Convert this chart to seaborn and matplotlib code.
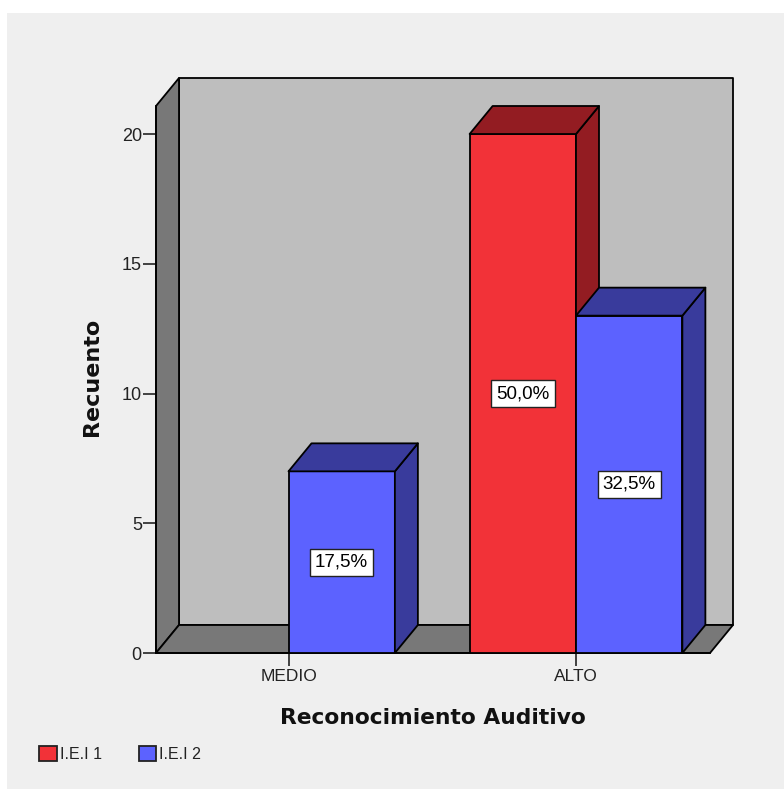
# Loading packages
import numpy as np
import pandas as pd
import seaborn as sn
import matplotlib.pyplot as plt
from matplotlib.patches import Patch, Polygon, Rectangle

# Values
categories = ['MEDIO', 'ALTO']
iei1_values = [np.nan, 20]
iei2_values = [7, 13]
iei1_pct = [None, '50,0%']
iei2_pct = ['17,5%', '32,5%']
series_names = ['I.E.I 1', 'I.E.I 2']
y_ticks = [0, 5, 10, 15, 20]

W, H = 784, 789
RED, DARK_RED = '#F23238', '#931C22'
BLUE, DARK_BLUE = '#5C62FF', '#393B9C'
PANEL, WALL, FLOOR = '#EFEFEF', '#BEBEBE', '#787878'
EDGE_LW = 1.3

sn.set_theme(style='white')
plt.rcParams['font.family'] = ['Liberation Sans', 'DejaVu Sans']

df = pd.DataFrame({
    'cat': categories * 2,
    'serie': [series_names[0]] * 2 + [series_names[1]] * 2,
    'recuento': iei1_values + iei2_values,
})

fig = plt.figure(figsize=(W / 100, H / 100), dpi=100, facecolor='white')
fig.patches.append(Rectangle((7 / W, 0), 1 - 7 / W, 1 - 13 / H, transform=fig.transFigure,
                             facecolor=PANEL, edgecolor='none', figure=fig, zorder=-1))

# front plane of the 3d box, in pixels
left, right, top, bottom = 156, 710, 106, 653
ax = fig.add_axes([left / W, 1 - bottom / H, (right - left) / W, (bottom - top) / H])
ax.patch.set_alpha(0)

sn.barplot(data=df, x='cat', y='recuento', hue='serie', order=categories, hue_order=series_names,
           palette=[RED, BLUE], width=0.74, gap=0, saturation=1, edgecolor='black',
           linewidth=EDGE_LW, legend=False, ax=ax)

x0 = (left - 288.5) / 287.5
x1 = (right - 288.5) / 287.5
y1 = (bottom - top) / 25.95
ax.set_xlim(x0, x1)
ax.set_ylim(0, y1)

# depth of the box in data units
dx = 23 / 287.5
dy = 28 / 25.95


def face(points, color, z):
    ax.add_patch(Polygon(points, closed=True, facecolor=color, edgecolor='black',
                         linewidth=EDGE_LW, joinstyle='round', clip_on=False, zorder=z))


# back wall, left wall and floor
face([(x0 + dx, dy), (x1 + dx, dy), (x1 + dx, y1 + dy), (x0 + dx, y1 + dy)], WALL, 0.5)
face([(x0, 0), (x0 + dx, dy), (x0 + dx, y1 + dy), (x0, y1)], FLOOR, 0.6)
face([(x0, 0), (x1, 0), (x1 + dx, dy), (x0 + dx, dy)], FLOOR, 0.6)

# sides and tops of the bars, labels on the front
bars = [p for p in ax.patches if isinstance(p, Rectangle) and p.get_height() > 0]
labels = {}
for i, cat in enumerate(categories):
    labels[(i, 0)] = iei1_pct[i]
    labels[(i, 1)] = iei2_pct[i]

for bar in bars:
    xa, w, h = bar.get_x(), bar.get_width(), bar.get_height()
    xb = xa + w
    serie = 0 if bar.get_facecolor()[0] > 0.8 else 1
    z = 2 + serie
    dark = DARK_RED if serie == 0 else DARK_BLUE
    bar.set_zorder(z)
    face([(xb, 0), (xb + dx, dy), (xb + dx, h + dy), (xb, h)], dark, z)
    face([(xa, h), (xb, h), (xb + dx, h + dy), (xa + dx, h + dy)], dark, z)
    # the label sits on the centre of the front face
    cat_i = int(round(xa + w / 2))
    ax.text(xa + w / 2, h / 2, labels[(cat_i, serie)], ha='center', va='center', fontsize=13.5,
            color='black', zorder=6,
            bbox=dict(boxstyle='square,pad=0.27', facecolor='white', edgecolor='#222222', linewidth=1.0))

for side in ['top', 'right']:
    ax.spines[side].set_visible(False)
for side in ['left', 'bottom']:
    ax.spines[side].set_linewidth(EDGE_LW)
    ax.spines[side].set_color('black')
    ax.spines[side].set_zorder(1)

ax.set_yticks(y_ticks)
ax.tick_params(axis='both', which='major', bottom=True, left=True, length=9.2, width=1.3, color='#333333',
               labelcolor='#222222')
ax.tick_params(axis='x', labelsize=12.5, pad=2.5)
ax.tick_params(axis='y', labelsize=13, pad=1.0)
ax.set_xlabel('Reconocimiento Auditivo', fontsize=15.7, fontweight='bold', family='DejaVu Sans', color='#111111')
ax.set_ylabel('Recuento', fontsize=16, fontweight='bold', family='DejaVu Sans', color='#111111')
ax.xaxis.set_label_coords((432.5 - left) / (right - left), -(718 - bottom) / (bottom - top), transform=ax.transAxes)
ax.xaxis.label.set_va('center')
ax.yaxis.set_label_coords(-(156 - 92) / (right - left), (bottom - 377) / (bottom - top), transform=ax.transAxes)
ax.yaxis.label.set_va('center')

handles = [Patch(facecolor=RED, edgecolor='#222222', linewidth=1.3),
           Patch(facecolor=BLUE, edgecolor='#222222', linewidth=1.3)]
fig.legend(handles, series_names, loc='center left', bbox_to_anchor=(39 / W, 1 - 754 / H), ncol=2,
           frameon=False, fontsize=11.5, labelcolor='#222222', handlelength=1.1, handleheight=1.1,
           handletextpad=0.2, columnspacing=2.3, borderpad=0, borderaxespad=0)

plt.savefig('out.png', dpi=100, facecolor=fig.get_facecolor())
plt.close(fig)
